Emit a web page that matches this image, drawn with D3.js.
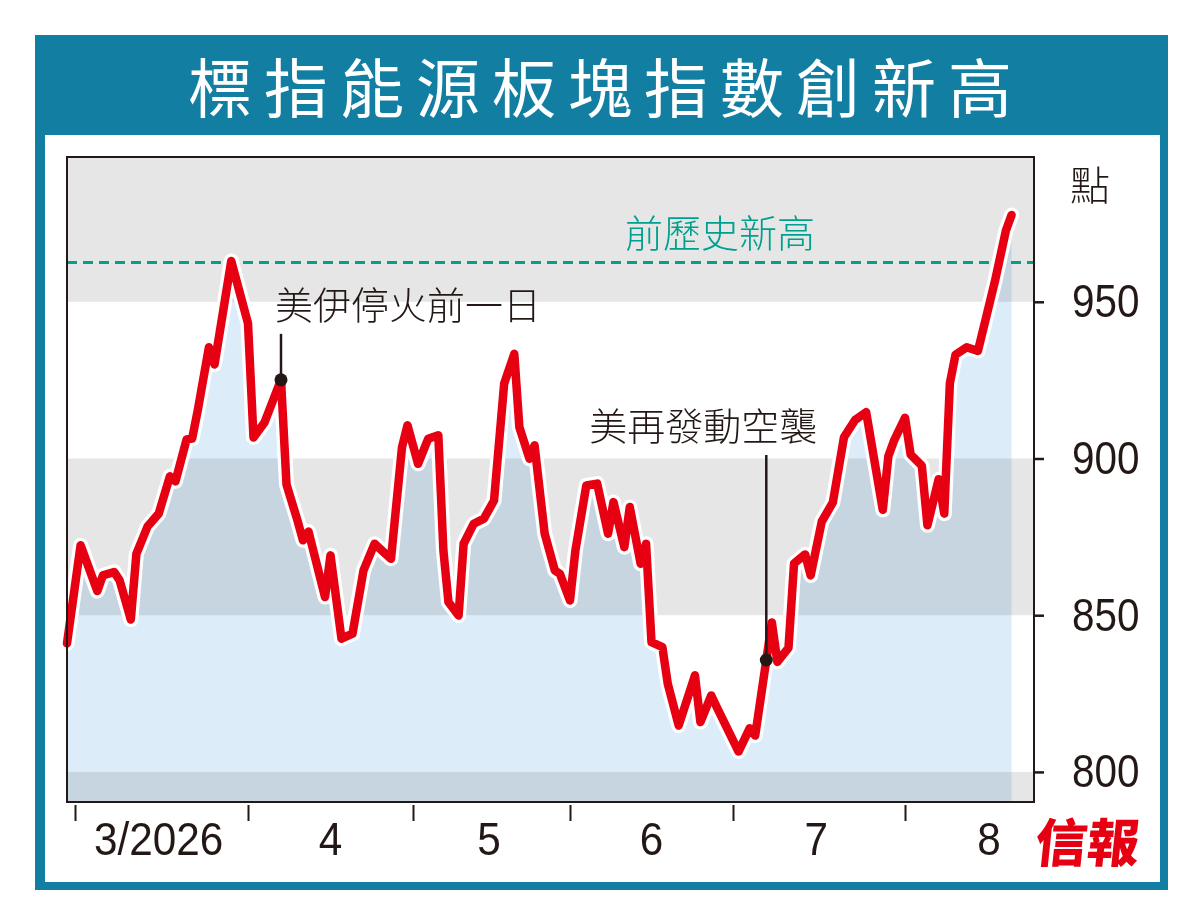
<!DOCTYPE html>
<html>
<head>
<meta charset="utf-8">
<script src="https://cdn.jsdelivr.net/npm/d3@7"></script>
<style>
body { margin: 0; background: #fff; }
</style>
</head>
<body>
<div id="chart"></div>
<script>
const titleText = "標指能源板塊指數創新高";
const unitLabel = "點";
const sourceLabel = "信報";

const dateStrings = [
  "2026-02-27", "2026-03-02", "2026-03-05", "2026-03-06", "2026-03-08", "2026-03-09", "2026-03-11", "2026-03-12",
  "2026-03-14", "2026-03-16", "2026-03-18", "2026-03-19", "2026-03-21", "2026-03-22", "2026-03-23", "2026-03-25",
  "2026-03-26", "2026-03-29", "2026-04-01", "2026-04-02", "2026-04-04", "2026-04-07", "2026-04-08", "2026-04-10",
  "2026-04-11", "2026-04-12", "2026-04-15", "2026-04-16", "2026-04-18", "2026-04-20", "2026-04-22", "2026-04-24",
  "2026-04-27", "2026-04-29", "2026-04-30", "2026-05-02", "2026-05-04", "2026-05-06", "2026-05-07", "2026-05-08",
  "2026-05-10", "2026-05-11", "2026-05-13", "2026-05-15", "2026-05-17", "2026-05-19", "2026-05-21", "2026-05-22",
  "2026-05-24", "2026-05-25", "2026-05-27", "2026-05-29", "2026-05-30", "2026-06-01", "2026-06-02", "2026-06-04",
  "2026-06-06", "2026-06-08", "2026-06-09", "2026-06-11", "2026-06-12", "2026-06-14", "2026-06-15", "2026-06-16",
  "2026-06-18", "2026-06-19", "2026-06-21", "2026-06-24", "2026-06-25", "2026-06-27", "2026-06-28", "2026-07-02",
  "2026-07-04", "2026-07-05", "2026-07-07", "2026-07-08", "2026-07-09", "2026-07-11", "2026-07-12", "2026-07-14",
  "2026-07-15", "2026-07-17", "2026-07-19", "2026-07-21", "2026-07-23", "2026-07-25", "2026-07-28", "2026-07-29",
  "2026-07-30", "2026-08-01", "2026-08-02", "2026-08-04", "2026-08-05", "2026-08-07", "2026-08-08", "2026-08-09",
  "2026-08-10", "2026-08-12", "2026-08-14", "2026-08-16", "2026-08-17", "2026-08-19", "2026-08-20"
];

const indexValues = [
  841.0, 872.3, 857.7, 862.7, 863.8, 861.1, 848.6, 869.6,
  878.3, 882.4, 894.3, 892.7, 906.1, 906.4, 915.4, 935.5,
  930.0, 963.0, 943.1, 906.7, 911.5, 925.1, 891.7, 880.2,
  873.9, 876.7, 855.8, 869.1, 842.5, 844.1, 864.3, 872.8,
  868.0, 903.6, 910.6, 898.3, 906.3, 907.4, 870.7, 854.2,
  849.9, 872.8, 879.2, 880.8, 886.6, 923.9, 933.4, 910.0,
  899.9, 904.2, 876.0, 864.3, 863.2, 854.7, 870.7, 891.4,
  892.0, 876.0, 886.1, 871.7, 884.5, 866.4, 872.8, 841.4,
  839.8, 828.1, 814.8, 830.8, 815.9, 824.4, 820.7, 806.5,
  813.9, 811.6, 835.7, 847.7, 835.1, 839.6, 866.5, 869.4,
  862.7, 879.9, 886.0, 906.8, 912.3, 914.8, 883.6, 900.7,
  905.6, 913.0, 901.3, 897.7, 878.7, 893.4, 882.4, 924.0,
  933.1, 935.5, 934.3, 949.0, 956.3, 972.8, 977.7
];

const yTickValues = [800, 850, 900, 950];
const monthTickDates = ["2026-03-01", "2026-04-01", "2026-05-01", "2026-06-01", "2026-07-01", "2026-08-01"];
const monthLabelDates = ["2026-03-16", "2026-04-16", "2026-05-16", "2026-06-16", "2026-07-16", "2026-08-16"];
const monthLabels = ["3/2026", "4", "5", "6", "7", "8"];

const previousHigh = 962.5;
const previousHighLabel = "前歷史新高";

const annotationDates = ["2026-04-07", "2026-07-07"];
const annotationTexts = ["美伊停火前一日", "美再發動空襲"];

// layout
const margin = {top: 157, right: 166, bottom: 122, left: 67};
const svgW = 1200, svgH = 924;
const width = svgW - margin.left - margin.right;   // 967
const height = svgH - margin.top - margin.bottom;  // 645

const parseDate = d3.timeParse("%Y-%m-%d");
const data = dateStrings.map((d, i) => ({date: parseDate(d), value: indexValues[i]}));

const red = "#e60012";
const teal = "#127ea1";
const green = "#00a08e";
const ink = "#231815";
const cjk = "'Noto Sans CJK TC', 'Noto Sans CJK SC', sans-serif";
const numFont = "'Liberation Sans', Arial, sans-serif";

// squeeze numbers to look like a condensed face
function condense(sel, k) {
  sel.each(function() {
    const len = this.getComputedTextLength();
    d3.select(this).attr("textLength", len * k).attr("lengthAdjust", "spacingAndGlyphs");
  });
}

const svg = d3.select("#chart")
  .append("svg")
  .attr("width", svgW)
  .attr("height", svgH);

// outer frame + title bar
svg.append("rect").attr("x", 35).attr("y", 35).attr("width", 1133).attr("height", 855).attr("fill", teal);
svg.append("rect").attr("x", 45).attr("y", 135).attr("width", 1115).attr("height", 747).attr("fill", "#fff");

svg.append("text")
  .attr("x", 606).attr("y", 112)
  .attr("text-anchor", "middle")
  .attr("fill", "#fff")
  .style("font-family", cjk)
  .style("font-weight", 400)
  .style("font-size", "64px")
  .style("letter-spacing", "12px")
  .text(titleText);

const g = svg.append("g")
  .attr("transform", "translate(" + margin.left + "," + margin.top + ")");

// piecewise time scale so month boundaries sit where the original puts them
const xScale = d3.scaleTime()
  .domain([parseDate("2026-02-27")].concat(monthTickDates.map(parseDate), [parseDate("2026-08-24")]))
  .range([0, 8, 181, 346, 503, 666, 838, width]);

const yScale = d3.scaleLinear()
  .domain([790.4, 996.2])
  .range([height, 0]);

// grey bands
const bands = [[yTickValues[3], 996.2], [yTickValues[1], yTickValues[2]], [790.4, yTickValues[0]]];
g.selectAll(".band")
  .data(bands)
  .enter()
  .append("rect")
  .attr("x", 0)
  .attr("width", width)
  .attr("y", d => yScale(d[1]))
  .attr("height", d => yScale(d[0]) - yScale(d[1]))
  .attr("fill", "#e6e6e6");

// area
g.append("path")
  .datum(data)
  .attr("fill", "#dcedf9")
  .style("mix-blend-mode", "multiply")
  .attr("d", d3.area()
    .x(d => xScale(d.date))
    .y0(height)
    .y1(d => yScale(d.value)));

// previous high
g.append("line")
  .attr("x1", 0).attr("x2", width)
  .attr("y1", yScale(previousHigh)).attr("y2", yScale(previousHigh))
  .attr("stroke", green)
  .attr("stroke-width", 3)
  .attr("stroke-dasharray", "10,6");

g.append("text")
  .attr("x", 653).attr("y", yScale(previousHigh) - 16)
  .attr("text-anchor", "middle")
  .attr("fill", green)
  .style("font-family", cjk)
  .style("font-weight", 300)
  .style("font-size", "38px")
  .text(previousHighLabel);

// line with white halo
const line = d3.line()
  .x(d => xScale(d.date))
  .y(d => yScale(d.value));

g.append("path")
  .datum(data)
  .attr("fill", "none")
  .attr("stroke", "#fff")
  .attr("stroke-width", 15)
  .attr("stroke-linejoin", "round")
  .attr("stroke-linecap", "round")
  .attr("d", line);

g.append("path")
  .datum(data)
  .attr("fill", "none")
  .attr("stroke", red)
  .attr("stroke-width", 8.5)
  .attr("stroke-linejoin", "round")
  .attr("stroke-linecap", "round")
  .attr("d", line);

// annotations
const notes = annotationDates.map((d, i) => {
  const p = data.find(e => e.date.getTime() === parseDate(d).getTime());
  return {date: p.date, value: p.value, text: annotationTexts[i]};
});
const leaderLen = [46, 205];
const textDx = [-6, 51];
const textAnchor = ["start", "end"];

notes.forEach((n, i) => {
  const px = xScale(n.date), py = yScale(n.value);
  g.append("line")
    .attr("x1", px).attr("x2", px)
    .attr("y1", py).attr("y2", py - leaderLen[i])
    .attr("stroke", ink)
    .attr("stroke-width", 2.5);
  g.append("circle")
    .attr("cx", px).attr("cy", py).attr("r", 6.5)
    .attr("fill", ink);
  g.append("text")
    .attr("x", px + textDx[i])
    .attr("y", py - leaderLen[i] - 15)
    .attr("text-anchor", textAnchor[i])
    .attr("fill", ink)
    .style("font-family", cjk)
    .style("font-weight", 300)
    .style("font-size", "38px")
    .text(n.text);
});

// frame
g.append("rect")
  .attr("width", width).attr("height", height)
  .attr("fill", "none")
  .attr("stroke", ink)
  .attr("stroke-width", 2);

// right axis
const yAxis = g.append("g")
  .attr("transform", "translate(" + width + ",0)")
  .call(d3.axisRight(yScale).tickValues(yTickValues).tickSize(10).tickPadding(28));
yAxis.select(".domain").remove();
yAxis.selectAll("line").attr("stroke", ink).attr("stroke-width", 2.5);
yAxis.selectAll("text")
  .attr("fill", ink)
  .style("font-family", numFont)
  .style("font-size", "47px")
  .call(condense, 0.86);

g.append("text")
  .attr("x", width + 56).attr("y", 43)
  .attr("text-anchor", "middle")
  .attr("fill", ink)
  .style("font-family", cjk)
  .style("font-weight", 300)
  .style("font-size", "40px")
  .text(unitLabel);

// bottom axis: month ticks, then centred month labels
const xAxis = g.append("g")
  .attr("transform", "translate(0," + (height + 3) + ")")
  .call(d3.axisBottom(xScale)
    .tickValues(monthTickDates.map(parseDate))
    .tickSize(16)
    .tickFormat(""));
xAxis.select(".domain").remove();
xAxis.selectAll("line").attr("stroke", ink).attr("stroke-width", 2);

g.selectAll(".month-label")
  .data(monthLabelDates)
  .enter()
  .append("text")
  .attr("class", "month-label")
  .attr("x", d => xScale(parseDate(d)))
  .attr("y", height + 53)
  .attr("text-anchor", "middle")
  .attr("fill", ink)
  .style("font-family", numFont)
  .style("font-size", "47px")
  .text((d, i) => monthLabels[i])
  .call(condense, 0.9);

// source mark
svg.append("text")
  .attr("x", 1086).attr("y", 862)
  .attr("text-anchor", "middle")
  .attr("fill", red)
  .attr("transform", "skewX(-6) translate(90,0)")
  .style("font-family", cjk)
  .style("font-weight", 900)
  .style("font-size", "52px")
  .text(sourceLabel);
</script>
</body>
</html>
